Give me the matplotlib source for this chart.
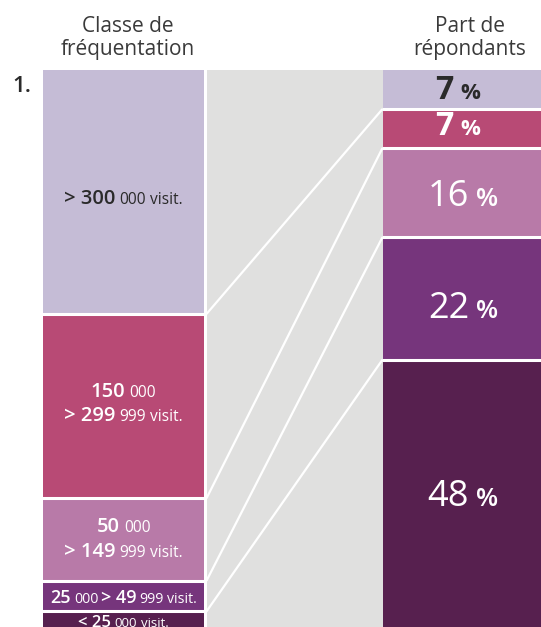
import matplotlib
matplotlib.use("Agg")
import matplotlib.pyplot as plt
from matplotlib.offsetbox import TextArea, HPacker, VPacker, AnnotationBbox
import numpy as np

plt.rcParams['font.family'] = ['Open Sans', 'DejaVu Sans']

# ---- data ----
class_labels = [
    [[("> 300", "b"), ("000", "s"), ("visit.", "v")]],
    [[("150", "b"), ("000", "s")], [("> 299", "b"), ("999", "s"), ("visit.", "v")]],
    [[("50", "b"), ("000", "s")], [("> 149", "b"), ("999", "s"), ("visit.", "v")]],
    [[("25", "b"), ("000", "s"), ("> 49", "b"), ("999", "s"), ("visit.", "v")]],
    [[("< 25", "b"), ("000", "s"), ("visit.", "v")]],
]
share_classes = [43.8, 33.1, 14.8, 5.5, 2.8]        # left column (%)
share_respondents = [7, 7, 16, 22, 48]             # right column (%)
resp_numbers = ["7", "7", "16", "22", "48"]
colors = ["#C5BCD6", "#B84A75", "#B87AA8", "#76357C", "#57204F"]
text_colors = ["#2a2a2a", "white", "white", "white", "white"]
header_left = ["Classe de", "fréquentation"]
header_right = ["Part de", "répondants"]
panel = "1."

W, H = 541, 627
fig = plt.figure(figsize=(W / 100, H / 100), dpi=100)
top_px = 70
ax = fig.add_axes([0, 0, 1, (H - top_px) / H])
ax.set_xlim(0, W)
ax.set_ylim(100, 0)
ax.axis("off")

# geometry (pixels in x)
lx0, lx1 = 43, 204
rx0, rx1 = 383, 545
gx0, gx1 = 206.5, 382.5

cumL = np.concatenate([[0], np.cumsum(share_classes)])
cumR = np.concatenate([[0], np.cumsum(share_respondents)])
cumR = cumR / cumR[-1] * 100
cumL = cumL / cumL[-1] * 100

# gray band
ax.bar((gx0 + gx1) / 2, 100, width=gx1 - gx0, bottom=0, color="#E0E0DF", linewidth=0)

# columns
ax.bar([(lx0 + lx1) / 2] * 5, share_classes, bottom=cumL[:-1], width=lx1 - lx0,
       color=colors, linewidth=0)
ax.bar([(rx0 + rx1) / 2] * 5, share_respondents, bottom=cumR[:-1], width=rx1 - rx0,
       color=colors, linewidth=0)

# gaps between segments
ax.hlines(cumL[1:-1], lx0 - 1, lx1 + 1, color="white", lw=2.2)
ax.hlines(cumR[1:-1], rx0 - 1, rx1 + 1, color="white", lw=2.2)

# connecting lines
for i in range(1, 5):
    ax.plot([gx0, gx1], [cumL[i], cumR[i]], color="white", lw=1.6, solid_capstyle="butt")

# ---- labels ----
row_sizes = [(14.5, 11.2, 3), (14.5, 11.2, 3), (14.5, 11.2, 3), (13, 10.2, 2), (12, 9.5, 2.5)]
left_dy = [-5, 1.5, 0, -1.5, -2.5]


def piece(txt, kind, color, big, small):
    if kind == "b":
        props = dict(fontsize=big, fontweight="semibold", color=color)
    else:
        props = dict(fontsize=small, fontweight="normal", color=color)
    return TextArea(txt, textprops=props)


for i, lines in enumerate(class_labels):
    big, small, sep = row_sizes[i]
    rows = [HPacker(children=[piece(t, k, text_colors[i], big, small) for t, k in ln],
                    align="baseline", pad=0, sep=sep) for ln in lines]
    box = rows[0] if len(rows) == 1 else VPacker(children=rows, align="center", pad=0, sep=3)
    mid = (cumL[i] + cumL[i + 1]) / 2
    ab = AnnotationBbox(box, ((lx0 + lx1) / 2, mid), xycoords="data",
                        xybox=(0, left_dy[i]), boxcoords="offset points",
                        frameon=False, box_alignment=(0.5, 0.5), pad=0)
    ax.add_artist(ab)

right_dy = [-2.5, -0.7, -5, -9.4, -4.7]
right_x = [458, 458, 463, 463, 463]
for i, num in enumerate(resp_numbers):
    if i < 2:
        nprops = dict(fontsize=23, fontweight="bold", color=text_colors[i])
        pprops = dict(fontsize=16, fontweight="bold", color=text_colors[i])
    else:
        nprops = dict(fontsize=26, fontweight="normal", color=text_colors[i])
        pprops = dict(fontsize=18.5, fontweight="semibold", color=text_colors[i])
    box = HPacker(children=[TextArea(num, textprops=nprops), TextArea("%", textprops=pprops)],
                  align="baseline", pad=0, sep=5)
    mid = (cumR[i] + cumR[i + 1]) / 2
    ab = AnnotationBbox(box, (right_x[i], mid), xycoords="data",
                        xybox=(0, right_dy[i]), boxcoords="offset points",
                        frameon=False, box_alignment=(0.5, 0.42), pad=0)
    ax.add_artist(ab)

# headers
for j, (yb) in enumerate([32, 54.5]):
    fig.text(128 / W, 1 - yb / H, header_left[j], ha="center", va="baseline", fontsize=15,
             color="#3a3a3a")
    fig.text(470 / W, 1 - yb / H, header_right[j], ha="center", va="baseline", fontsize=15,
             color="#3a3a3a")
fig.text(12 / W, 1 - 86 / H, panel, ha="left", va="center", fontsize=16,
         fontweight="semibold", color="#2a2a2a")

fig.savefig("out.png", dpi=100)
